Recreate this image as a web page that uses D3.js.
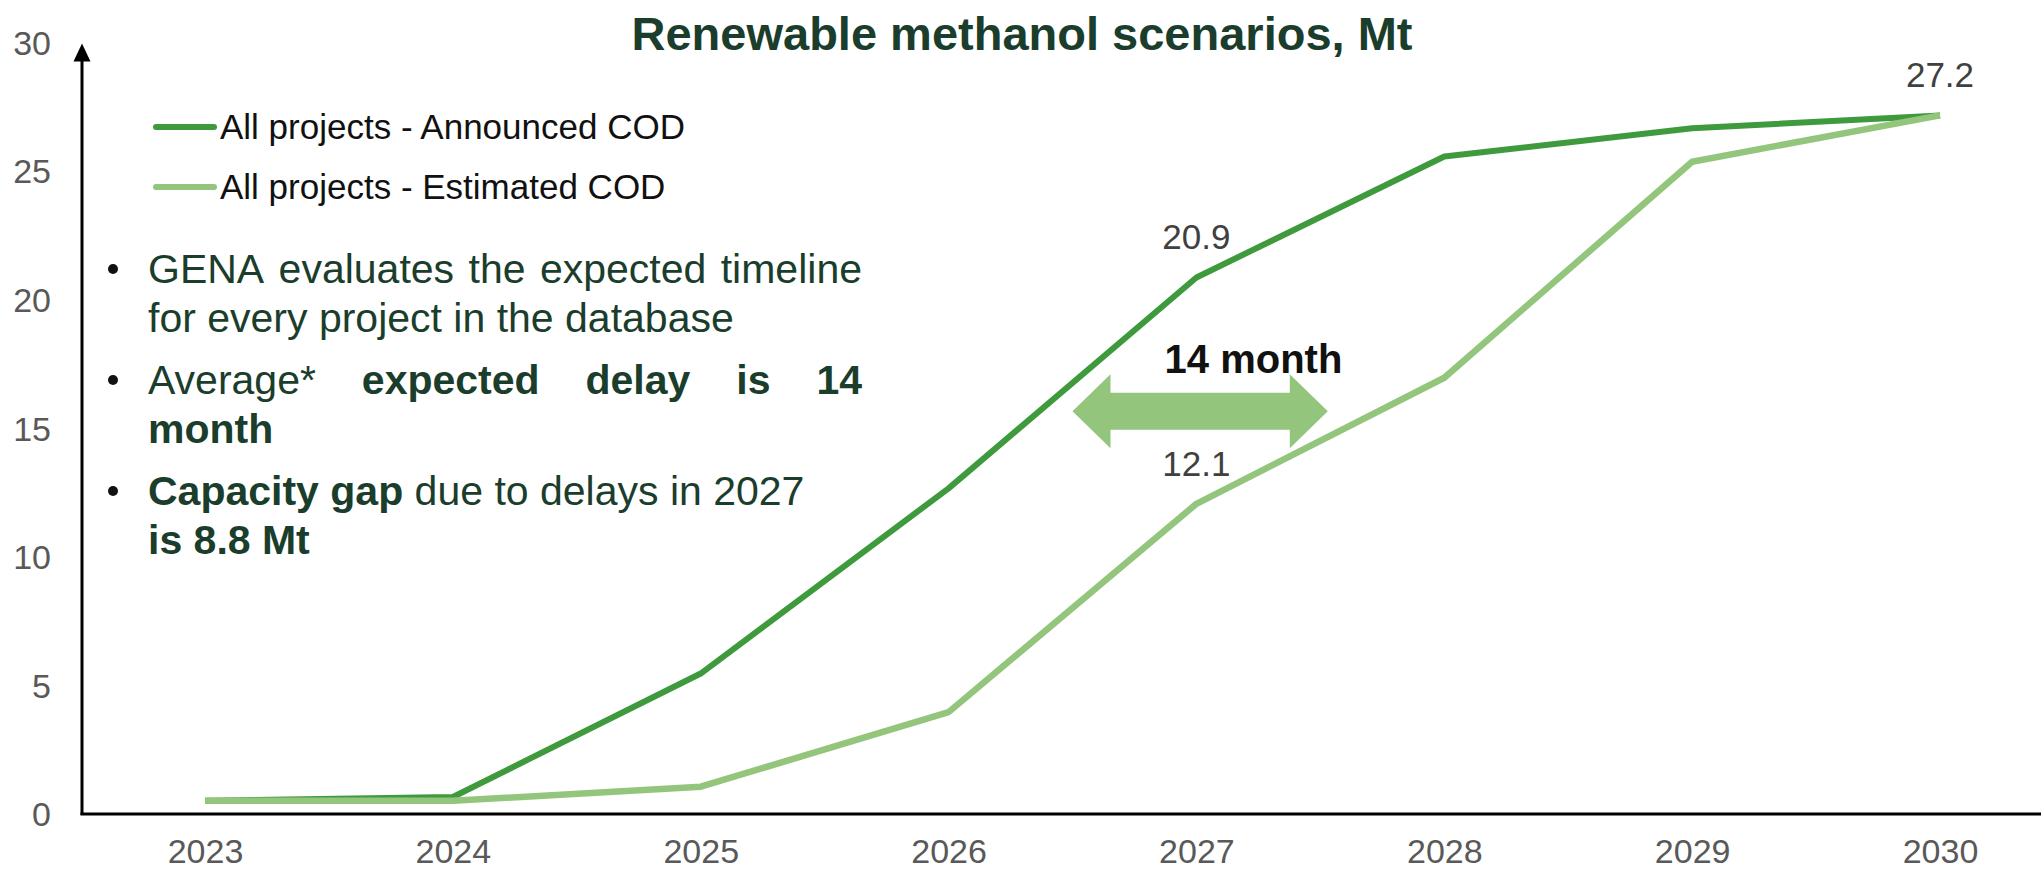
<!DOCTYPE html>
<html>
<head>
<meta charset="utf-8">
<script src="https://cdn.jsdelivr.net/npm/d3@7"></script>
<style>
  html, body { margin: 0; padding: 0; background: #ffffff; }
  svg { display: block; font-family: "Liberation Sans", Arial, sans-serif; }
</style>
</head>
<body>
<svg id="chart" width="2041" height="871"></svg>
<script>
// ---- data ----
const years = [2023, 2024, 2025, 2026, 2027, 2028, 2029, 2030];
const announcedCOD = [0.55, 0.7, 5.5, 12.7, 20.9, 25.6, 26.7, 27.2];
const estimatedCOD = [0.55, 0.55, 1.1, 4.0, 12.1, 17.0, 25.4, 27.2];
const yTicks = [0, 5, 10, 15, 20, 25, 30];
const seriesNames = ["All projects - Announced COD", "All projects - Estimated COD"];
const valueLabels = [
  { series: 0, year: 2027, value: 20.9 },
  { series: 0, year: 2030, value: 27.2 },
  { series: 1, year: 2027, value: 12.1 }
];
// delay annotation: double arrow between the two curves
const delayArrow = { from: 2026.5, to: 2027.53, level: 15.7, label: "14 month", labelYear: 2027.23, labelLevel: 17.2 };

const titleText = "Renewable methanol scenarios, Mt";
const bulletParas = [
  [ [{ t: "GENA evaluates the expected timeline" }], [{ t: "for every project in the database" }] ],
  [ [{ t: "Average*" }, { t: "expected delay is 14", b: true }], [{ t: "month", b: true }] ],
  [ [{ t: "Capacity gap", b: true }, { t: " due to delays in 2027" }], [{ t: "is 8.8 Mt", b: true }] ]
];
const justifyLines = [[true, false], [true, false], [false, false]];

// ---- styles ----
const DARK = "#3e9a3c";
const LIGHT = "#93c57c";
const TEXT_GREEN = "#1b3d2c";
const AXIS_GRAY = "#595959";

const svg = d3.select("#chart");
svg.append("rect").attr("width", 2041).attr("height", 871).attr("fill", "#fff");

const x = d3.scaleLinear().domain([2023, 2030]).range([205, 1940]);
const y = d3.scaleLinear().domain([0, 30]).range([815, 43.4]);
const axisX0 = 82;

// ---- axes labels ----
const xAxis = d3.axisBottom(x).tickValues(years).tickFormat(d3.format("d")).tickSize(0).tickPadding(24);
const gx = svg.append("g").attr("transform", `translate(0,${y(0)})`).call(xAxis);
gx.select(".domain").remove();
gx.selectAll("text").attr("font-size", 34).attr("fill", AXIS_GRAY)
  .attr("font-family", "'Liberation Sans', Arial, sans-serif");

const yAxis = d3.axisLeft(y).tickValues(yTicks).tickSize(0).tickPadding(31);
const gy = svg.append("g").attr("transform", `translate(${axisX0},0)`).call(yAxis);
gy.select(".domain").remove();
gy.selectAll("text").attr("font-size", 34).attr("fill", AXIS_GRAY)
  .attr("font-family", "'Liberation Sans', Arial, sans-serif");

// axis lines
svg.append("line").attr("x1", axisX0 - 1.5).attr("x2", 2041)
  .attr("y1", y(0) - 1).attr("y2", y(0) - 1)
  .attr("stroke", "#000").attr("stroke-width", 3);
svg.append("line").attr("x1", axisX0).attr("x2", axisX0)
  .attr("y1", y(0)).attr("y2", y(30) + 14)
  .attr("stroke", "#000").attr("stroke-width", 3);
// arrow head on the value axis
svg.append("path")
  .attr("d", `M${axisX0},${y(30)} L${axisX0 - 8.5},${y(30) + 18} L${axisX0 + 8.5},${y(30) + 18} Z`)
  .attr("fill", "#000");

// ---- title ----
svg.append("text").attr("x", 1022).attr("y", 50).attr("text-anchor", "middle")
  .attr("font-size", 47).attr("font-weight", "bold").attr("fill", TEXT_GREEN)
  .text(titleText);

// ---- series lines ----
const line = d3.line().x((d, i) => x(years[i])).y(d => y(d));
const seriesData = [announcedCOD, estimatedCOD];
const seriesColors = [DARK, LIGHT];
const seriesWidths = [6, 6.5];
seriesData.forEach((vals, s) => {
  svg.append("path").datum(vals).attr("d", line)
    .attr("fill", "none").attr("stroke", seriesColors[s])
    .attr("stroke-width", seriesWidths[s])
    .attr("stroke-linejoin", "round").attr("stroke-linecap", "butt");
});

// ---- value labels ----
valueLabels.forEach(l => {
  svg.append("text").attr("x", x(l.year)).attr("y", y(l.value) - 28)
    .attr("text-anchor", "middle").attr("font-size", 35).attr("fill", "#404040")
    .text(l.value.toFixed(1));
});

// ---- delay arrow ----
{
  const xl = x(delayArrow.from), xr = x(delayArrow.to), yc = y(delayArrow.level);
  const sh = 18.5, hh = 37, hl = 38;
  const p = [
    [xl, yc], [xl + hl, yc - hh], [xl + hl, yc - sh], [xr - hl, yc - sh], [xr - hl, yc - hh],
    [xr, yc], [xr - hl, yc + hh], [xr - hl, yc + sh], [xl + hl, yc + sh], [xl + hl, yc + hh]
  ];
  svg.append("path").attr("d", "M" + p.map(q => q.join(",")).join("L") + "Z").attr("fill", LIGHT);
  svg.append("text").attr("x", x(delayArrow.labelYear)).attr("y", y(delayArrow.labelLevel))
    .attr("text-anchor", "middle").attr("font-size", 40).attr("font-weight", "bold")
    .attr("fill", "#111").text(delayArrow.label);
}

// ---- legend ----
seriesNames.forEach((name, i) => {
  const ly = 127 + i * 60;
  svg.append("line").attr("x1", 156).attr("x2", 214).attr("y1", ly).attr("y2", ly)
    .attr("stroke", seriesColors[i]).attr("stroke-width", 6).attr("stroke-linecap", "round");
  svg.append("text").attr("x", 220).attr("y", ly + 12).attr("font-size", 35)
    .attr("fill", "#111").text(name);
});

// ---- bullet text ----
const textLeft = 148, textRight = 862, bulletX = 113;
const fontSize = 41;
const paraBase = [283, 394, 505];
const lineStep = 49;

function measure(str, bold) {
  const t = svg.append("text").attr("font-size", fontSize)
    .attr("font-weight", bold ? "bold" : "normal").style("white-space", "pre").text(str);
  const w = t.node().getComputedTextLength();
  t.remove();
  return w;
}

bulletParas.forEach((para, pi) => {
  const base = paraBase[pi];
  svg.append("circle").attr("cx", bulletX).attr("cy", base - 14).attr("r", 5).attr("fill", "#111");
  para.forEach((segs, li) => {
    const by = base + li * lineStep;
    if (justifyLines[pi][li]) {
      const words = [];
      segs.forEach(s => s.t.trim().split(/\s+/).forEach(w => words.push({ t: w, b: !!s.b })));
      const widths = words.map(w => measure(w.t, w.b));
      const total = d3.sum(widths);
      const gap = (textRight - textLeft - total) / (words.length - 1);
      let cx = textLeft;
      words.forEach((w, k) => {
        svg.append("text").attr("x", cx).attr("y", by).attr("font-size", fontSize)
          .attr("font-weight", w.b ? "bold" : "normal").attr("fill", TEXT_GREEN).text(w.t);
        cx += widths[k] + gap;
      });
    } else {
      const t = svg.append("text").attr("x", textLeft).attr("y", by).attr("font-size", fontSize)
        .attr("fill", TEXT_GREEN).style("white-space", "pre");
      segs.forEach(s => t.append("tspan").attr("font-weight", s.b ? "bold" : "normal").text(s.t));
    }
  });
});
</script>
</body>
</html>
